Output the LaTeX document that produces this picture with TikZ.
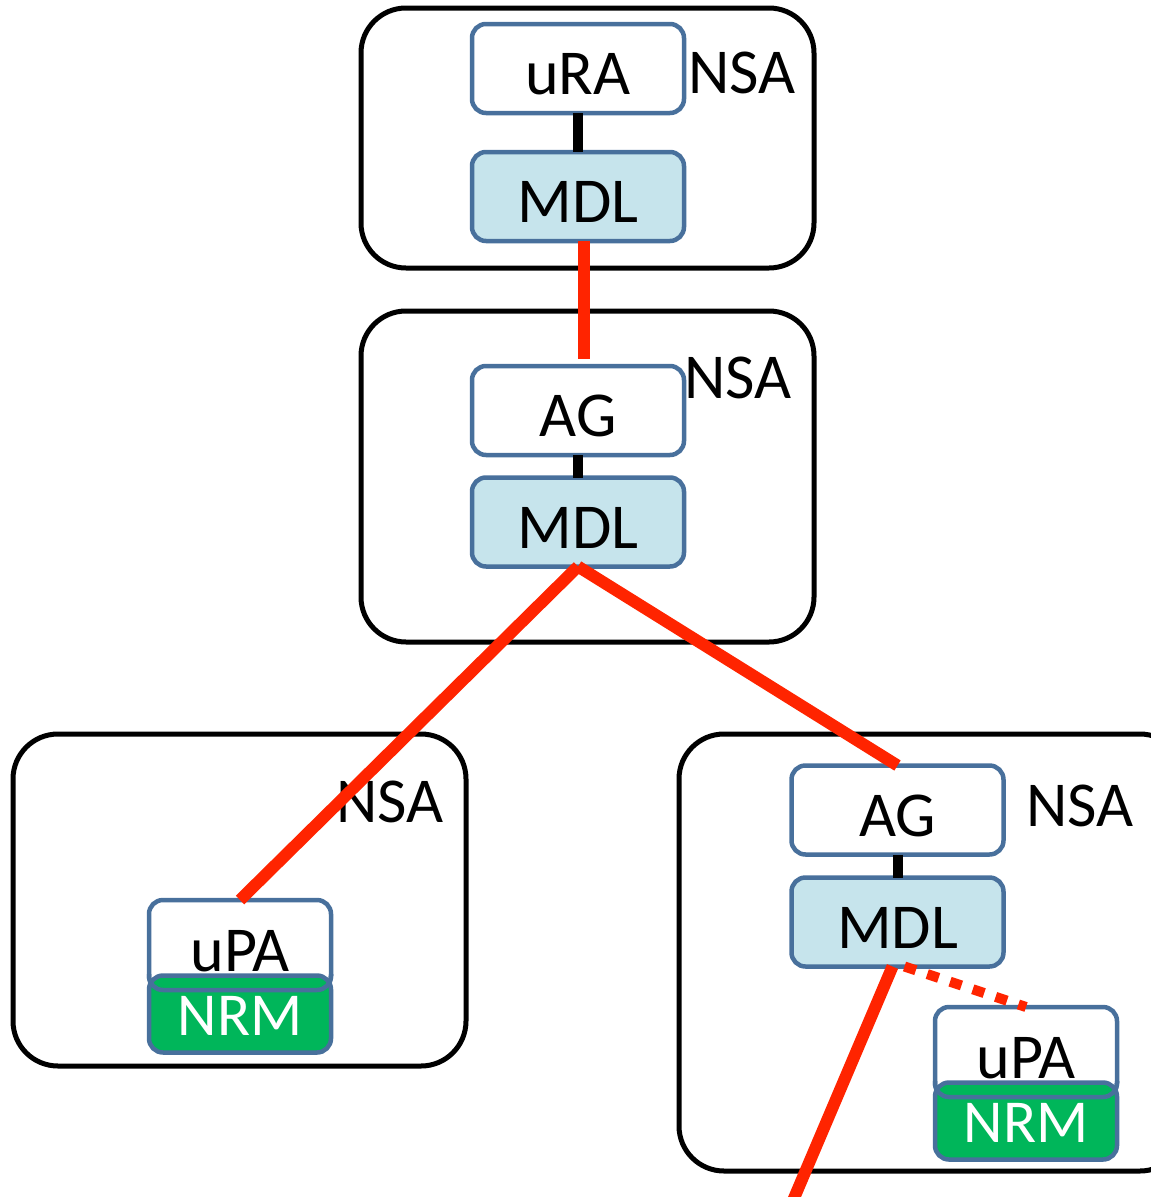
\documentclass[tikz,border=0pt]{standalone}
\usepackage{fontspec}
\setmainfont{Carlito}
\definecolor{cadre}{RGB}{72,112,156}
\definecolor{bleuclair}{RGB}{198,228,236}
\definecolor{vert}{RGB}{0,182,90}
\definecolor{rouge}{RGB}{255,36,0}

\begin{document}
\begin{tikzpicture}[x=1pt, y=-1pt,
	domaine/.style={draw=black, line width=5pt, rounded corners=45pt},
	boite/.style={draw=cadre, line width=4.5pt, rounded corners=14pt, fill=white, outer sep=0pt,
		minimum width=212pt, minimum height=89pt, text height=52pt, text depth=0pt,
		font=\fontsize{64}{64}\selectfont},
	mdlbox/.style={boite, fill=bleuclair},
	upabox/.style={boite, minimum width=182pt, minimum height=90pt},
	nrmbox/.style={boite, fill=vert, text=white, minimum width=182pt, minimum height=77pt,
		text height=42pt, font=\fontsize{61}{61}\selectfont},
	etiq/.style={font=\fontsize{64}{64}\selectfont, inner sep=0pt},
	lien/.style={line width=10pt, black},
	ligne/.style={line width=12pt, rouge}]

		\clip (0,0) rectangle (1151,1197);

		\newcommand{\mkpaire}[3]{
			% uPA sur NRM
			\node[upabox] (upa#1) at (#2,#3+45) {uPA};
			\node[nrmbox] (nrm#1) at (#2,#3+114) {NRM};
			\draw[draw=cadre, line width=4.5pt, rounded corners=14pt]
				([yshift=16pt]upa#1.south west) -- (upa#1.south west)
				-- (upa#1.south east) -- ([yshift=16pt]upa#1.south east);
		}

		%les domaines
		\draw[domaine] (361,8) rectangle (814,268);
		\draw[domaine] (361,311) rectangle (814,642);
		\draw[domaine] (13,734) rectangle (466,1066);
		\draw[domaine] (679,734) rectangle (1185,1171);

		\node[etiq] (nsa1) at (742,73) {NSA};
		\node[etiq] (nsa2) at (738,378) {NSA};
		\node[etiq] (nsa3) at (390,802) {NSA};
		\node[etiq] (nsa4) at (1080,806) {NSA};

		%les boites
		\node[boite] (ura) at (578,68.5) {uRA};
		\node[mdlbox] (mdl1) at (578,196.5) {MDL};
		\node[boite] (ag1) at (578,410.5) {AG};
		\node[mdlbox] (mdl2) at (578,522) {MDL};
		\node[boite] (ag2) at (897.5,810) {AG};
		\node[mdlbox] (mdl3) at (897.5,922) {MDL};

		\mkpaire{1}{240}{900}
		\mkpaire{2}{1026}{1007}

		\coordinate (sortie) at (789,1210);

		%les liens
		\draw[lien] (ura) -- (mdl1);
		\draw[lien] (ag1) -- (mdl2);
		\draw[lien] (ag2) -- (mdl3);

		\draw[ligne] ([xshift=6pt]mdl1.south) -- ([xshift=6pt,yshift=7pt]ag1.north);
		\draw[ligne] (mdl2.south) -- (upa1.north);
		\draw[ligne] (mdl2.south) -- (ag2.north);
		\draw[ligne] ([xshift=-5pt]mdl3.south) -- (sortie);
		\draw[ligne, line width=10pt, dash pattern=on 12pt off 12pt] ([xshift=7pt]mdl3.south) -- (upa2.north);

\end{tikzpicture}
\end{document}
